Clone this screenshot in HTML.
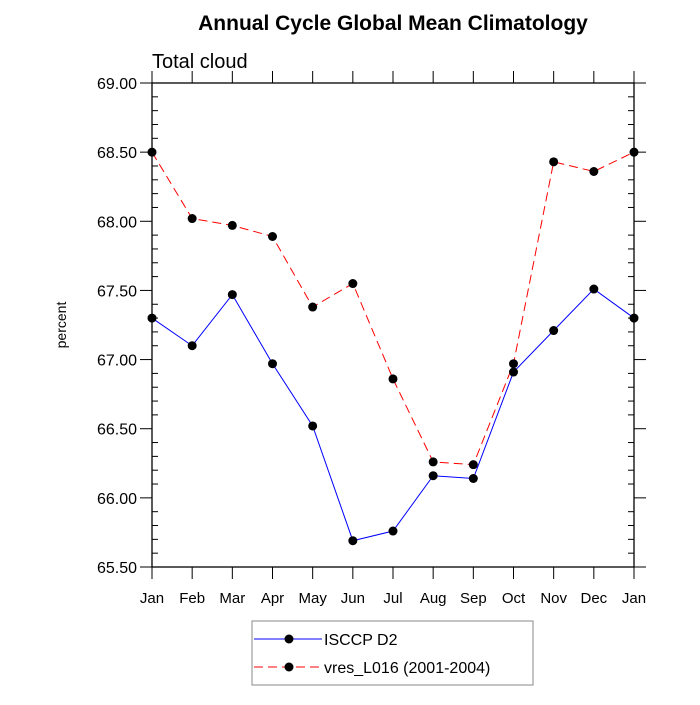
<!DOCTYPE html>
<html><head><meta charset="utf-8"><style>
body{margin:0;background:#fff}
svg{font-family:"Liberation Sans",sans-serif}
</style></head><body>
<svg id="c" width="700" height="700" xmlns="http://www.w3.org/2000/svg">
<text x="393" y="30" font-size="21" font-weight="bold" text-anchor="middle">Annual Cycle Global Mean Climatology</text>
<text x="152" y="68" font-size="20">Total cloud</text>
<text x="66" y="325" font-size="14" text-anchor="middle" transform="rotate(-90 66 325)">percent</text>
<g id="axes"></g>
<g id="series"></g>
<rect x="252" y="621" width="281" height="64" fill="none" stroke="#888"/>
<g>
<line x1="254" y1="639" x2="322" y2="639" stroke="#00f" stroke-width="1"/>
<circle cx="289" cy="639" r="4.5" fill="#000"/>
<text x="324" y="645" font-size="16">ISCCP D2</text></g>
<g>
<line x1="254" y1="667" x2="322" y2="667" stroke="#f00" stroke-width="1" stroke-dasharray="9,5"/>
<circle cx="289" cy="667" r="4.5" fill="#000"/>
<text x="324" y="673" font-size="16">vres_L016 (2001-2004)</text></g>
</svg>
<script>
const months=["Jan","Feb","Mar","Apr","May","Jun","Jul","Aug","Sep","Oct","Nov","Dec","Jan"];
const isccp=[67.30,67.10,67.47,66.97,66.52,65.69,65.76,66.16,66.14,66.91,67.21,67.51,67.30];
const vres=[68.50,68.02,67.97,67.89,67.38,67.55,66.86,66.26,66.24,66.97,68.43,68.36,68.50];
const yTicks=[65.5,66.0,66.5,67.0,67.5,68.0,68.5,69.0];
const X0=152,X1=634,Y0=567,Y1=83,YMIN=65.5,YMAX=69;
const ns="http://www.w3.org/2000/svg";
const xs=i=>X0+(X1-X0)*i/(months.length-1);
const ys=v=>Y0-(v-YMIN)/(YMAX-YMIN)*(Y0-Y1);
const ax=document.getElementById('axes'),se=document.getElementById('series');
function mk(tag,attrs,parent){const e=document.createElementNS(ns,tag);for(const k in attrs)e.setAttribute(k,attrs[k]);parent.appendChild(e);return e;}
const frame=mk('rect',{x:X0,y:Y1,width:X1-X0,height:Y0-Y1,fill:'none',stroke:'#000','stroke-width':1.3},ax);


yTicks.forEach(v=>{
 const y=ys(v);
 mk('line',{x1:X0-12,y1:y,x2:X0,y2:y,stroke:'#000'},ax);
 mk('line',{x1:X1,y1:y,x2:X1+12,y2:y,stroke:'#000'},ax);
 const t=mk('text',{x:X0-15,y:y+6,'font-size':16,'text-anchor':'end'},ax);
 t.textContent=v.toFixed(2);
 
 
});
for(let v=YMIN;v<YMAX-0.01;v+=0.5){for(let k=1;k<5;k++){const y=ys(v+k*0.1);
 mk('line',{x1:X0,y1:y,x2:X0+6,y2:y,stroke:'#000'},ax);
 mk('line',{x1:X1-6,y1:y,x2:X1,y2:y,stroke:'#000'},ax);}}
months.forEach((m,i)=>{
 const x=xs(i);
 mk('line',{x1:x,y1:Y0,x2:x,y2:Y0+12,stroke:'#000'},ax);
 mk('line',{x1:x,y1:Y1-12,x2:x,y2:Y1,stroke:'#000'},ax);
 const t=mk('text',{x:x,y:Y0+36,'font-size':15,'text-anchor':'middle'},ax);
 t.textContent=m;
 
 
});
function draw(vals,color,dash,name){
 const p=mk('polyline',{points:vals.map((v,i)=>xs(i)+','+ys(v)).join(' '),fill:'none',stroke:color,'stroke-width':1,'stroke-dasharray':dash},se);
 
 
 vals.forEach((v,i)=>{const c=mk('circle',{cx:xs(i),cy:ys(v),r:4.5,fill:'#000'},se);
  
  });
}
draw(vres,'#f00','9,5','vres');
draw(isccp,'#00f','none','isccp');
</script>
</body></html>
